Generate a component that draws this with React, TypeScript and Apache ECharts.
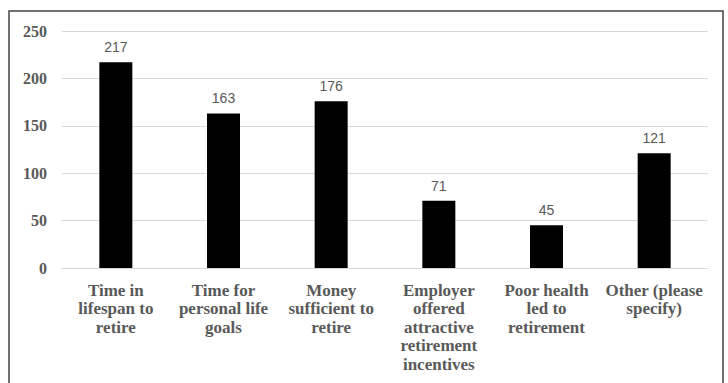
import React, { useEffect, useRef } from "react";
import * as echarts from "echarts";

const categories = [
  "Time in\nlifespan to\nretire",
  "Time for\npersonal life\ngoals",
  "Money\nsufficient to\nretire",
  "Employer\noffered\nattractive\nretirement\nincentives",
  "Poor health\nled to\nretirement",
  "Other (please\nspecify)",
];
const values = [217, 163, 176, 71, 45, 121];
const yTicks = { min: 0, max: 250, interval: 50 };

export default function App() {
  const ref = useRef<HTMLDivElement>(null);
  useEffect(() => {
    document.body.style.margin = "0";
    const chart = echarts.init(ref.current!, null, { renderer: "svg" });
    chart.setOption({
      animation: false,
      backgroundColor: "#ffffff",
      graphic: [
        {
          type: "rect",
          shape: { x: 9, y: 11, width: 714, height: 400 },
          style: { fill: "none", stroke: "#444444", lineWidth: 1.5 },
          silent: true,
        },
      ],
      grid: { left: 62, right: 20, top: 31, bottom: 115, containLabel: false },
      xAxis: {
        type: "category",
        data: categories,
        axisLine: { show: true, lineStyle: { color: "#d9d9d9", width: 1 } },
        axisTick: { show: false },
        axisLabel: {
          interval: 0,
          margin: 13,
          color: "#595959",
          fontFamily: "'Liberation Serif', 'Times New Roman', serif",
          fontWeight: "bold",
          fontSize: 17,
          lineHeight: 18.5,
        },
      },
      yAxis: {
        type: "value",
        min: yTicks.min,
        max: yTicks.max,
        interval: yTicks.interval,
        axisLine: { show: false },
        axisTick: { show: false },
        splitLine: { lineStyle: { color: "#d9d9d9", width: 1 } },
        axisLabel: {
          margin: 15,
          color: "#595959",
          fontFamily: "'Liberation Serif', 'Times New Roman', serif",
          fontWeight: "bold",
          fontSize: 16,
        },
      },
      series: [
        {
          type: "bar",
          data: values,
          barWidth: 33,
          itemStyle: { color: "#000000" },
          label: {
            show: true,
            position: "top",
            distance: 8,
            color: "#595959",
            fontFamily: "'Liberation Sans', Arial, sans-serif",
            fontSize: 14,
          },
        },
      ],
    });
    return () => chart.dispose();
  }, []);
  return <div ref={ref} style={{ width: 728, height: 383 }} />;
}
